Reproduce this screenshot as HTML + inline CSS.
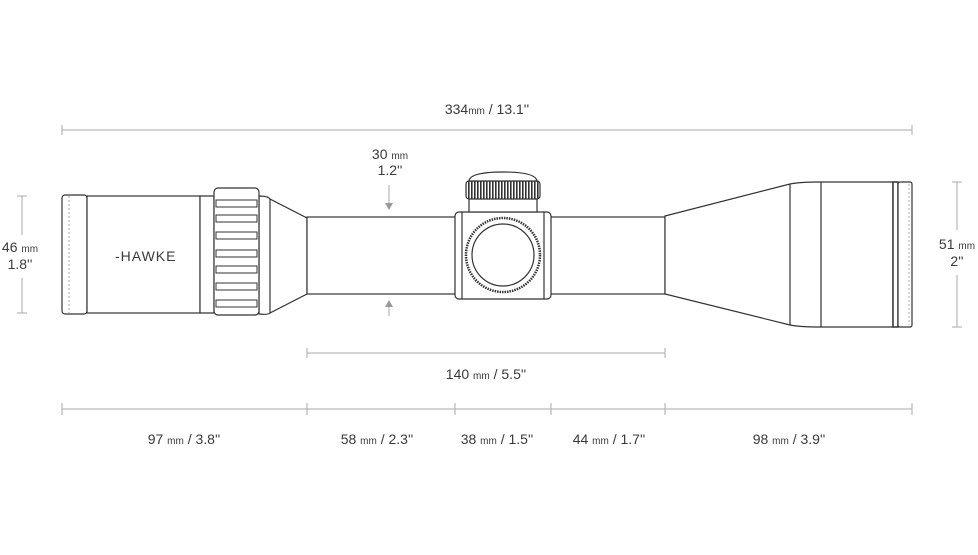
<!DOCTYPE html>
<html><head><style>
body{margin:0;background:#fff}
svg text{font-family:"Liberation Sans",sans-serif;fill:#3a3a3a;font-size:14px}
.s{font-size:10px}
</style></head><body>
<svg width="978" height="550" viewBox="0 0 978 550" xmlns="http://www.w3.org/2000/svg">
<defs>
<pattern id="kn" width="3" height="20" patternUnits="userSpaceOnUse"><rect width="3" height="20" fill="#fff"/><rect width="1.6" height="20" fill="#333"/></pattern>
</defs>
<g stroke="#aaa" stroke-width="1" fill="none">
<line x1="62" y1="130" x2="912" y2="130"/><line x1="62" y1="125" x2="62" y2="135"/><line x1="912" y1="125" x2="912" y2="135"/>
<line x1="307" y1="353" x2="665" y2="353"/><line x1="307" y1="348" x2="307" y2="358"/><line x1="665" y1="348" x2="665" y2="358"/>
<line x1="62" y1="409" x2="912" y2="409"/>
<line x1="62" y1="403" x2="62" y2="415"/><line x1="307" y1="403" x2="307" y2="415"/><line x1="455" y1="403" x2="455" y2="415"/><line x1="551" y1="403" x2="551" y2="415"/><line x1="665" y1="403" x2="665" y2="415"/><line x1="912" y1="403" x2="912" y2="415"/>
<line x1="22" y1="196" x2="22" y2="235"/><line x1="22" y1="278" x2="22" y2="313"/><line x1="17" y1="196" x2="27" y2="196"/><line x1="17" y1="313" x2="27" y2="313"/>
<line x1="957" y1="182" x2="957" y2="230"/><line x1="957" y1="275" x2="957" y2="327"/><line x1="952" y1="182" x2="962" y2="182"/><line x1="952" y1="327" x2="962" y2="327"/>
<line x1="389" y1="185" x2="389" y2="204"/><line x1="389" y1="306" x2="389" y2="316"/>
</g>
<polygon points="385,203 393,203 389,210" fill="#999"/>
<polygon points="385,307 393,307 389,300" fill="#999"/>
<g stroke="#333" stroke-width="1.2" fill="#fff">
<rect x="62" y="195" width="25" height="119" rx="3"/>
<rect x="87" y="196" width="113" height="117"/>
<path d="M200,196 H214 V313 H200 Z"/>
<path d="M259,196 Q268,196 270,199 L307,218 V294 L270,313 Q268,315 259,314 Z"/>
<line x1="270" y1="199" x2="270" y2="313"/>
<rect x="214" y="188" width="45" height="127" rx="4"/>
<g stroke-width="1">
<rect x="216" y="200" width="41" height="7"/><rect x="216" y="215" width="41" height="7"/><rect x="216" y="232" width="41" height="7"/><rect x="216" y="250" width="41" height="7"/><rect x="216" y="266" width="41" height="7"/><rect x="216" y="283" width="41" height="7"/><rect x="216" y="300" width="41" height="7"/>
</g>
<rect x="307" y="217" width="358" height="77"/>
<rect x="455" y="212" width="96" height="87" rx="4"/>
<line x1="462" y1="212" x2="462" y2="299"/><line x1="544" y1="212" x2="544" y2="299"/>
<rect x="469" y="198" width="68" height="14"/>
<rect x="466" y="181" width="74" height="18" rx="3" fill="url(#kn)"/>
<path d="M469,181 Q470,172 503,172 Q536,172 537,181 Z"/>
<circle cx="503" cy="255" r="37" stroke-width="2.5" stroke-dasharray="1.5 1"/>
<circle cx="503" cy="255" r="31"/>
<path d="M665,216 L790,184 Q800,182 820,182 H893 V327 H820 Q800,327 790,325 L665,294 Z"/>
<line x1="790" y1="184" x2="790" y2="325"/><line x1="821" y1="182" x2="821" y2="327"/>
<rect x="893" y="182" width="5" height="145" stroke-width="1.5"/>
<rect x="898" y="182" width="14" height="145" rx="2"/>
</g>
<line x1="69" y1="196" x2="69" y2="313" stroke="#aaa" stroke-dasharray="2 2"/>
<line x1="909" y1="184" x2="909" y2="325" stroke="#aaa" stroke-dasharray="2 2"/>
<text x="115" y="261" style="font-size:14px;letter-spacing:1px">-HAWKE</text>
<text x="487" y="114" text-anchor="middle">334<tspan class="s">mm</tspan> / 13.1''</text>
<text x="390" y="159" text-anchor="middle">30 <tspan class="s">mm</tspan></text>
<text x="390" y="175" text-anchor="middle">1.2''</text>
<text x="20" y="252" text-anchor="middle">46 <tspan class="s">mm</tspan></text>
<text x="20" y="269" text-anchor="middle">1.8''</text>
<text x="957" y="249" text-anchor="middle">51 <tspan class="s">mm</tspan></text>
<text x="957" y="266" text-anchor="middle">2''</text>
<text x="486" y="379" text-anchor="middle">140 <tspan class="s">mm</tspan> / 5.5''</text>
<text x="184" y="444" text-anchor="middle">97 <tspan class="s">mm</tspan> / 3.8''</text>
<text x="377" y="444" text-anchor="middle">58 <tspan class="s">mm</tspan> / 2.3''</text>
<text x="497" y="444" text-anchor="middle">38 <tspan class="s">mm</tspan> / 1.5''</text>
<text x="609" y="444" text-anchor="middle">44 <tspan class="s">mm</tspan> / 1.7''</text>
<text x="789" y="444" text-anchor="middle">98 <tspan class="s">mm</tspan> / 3.9''</text>
</svg>
</body></html>
